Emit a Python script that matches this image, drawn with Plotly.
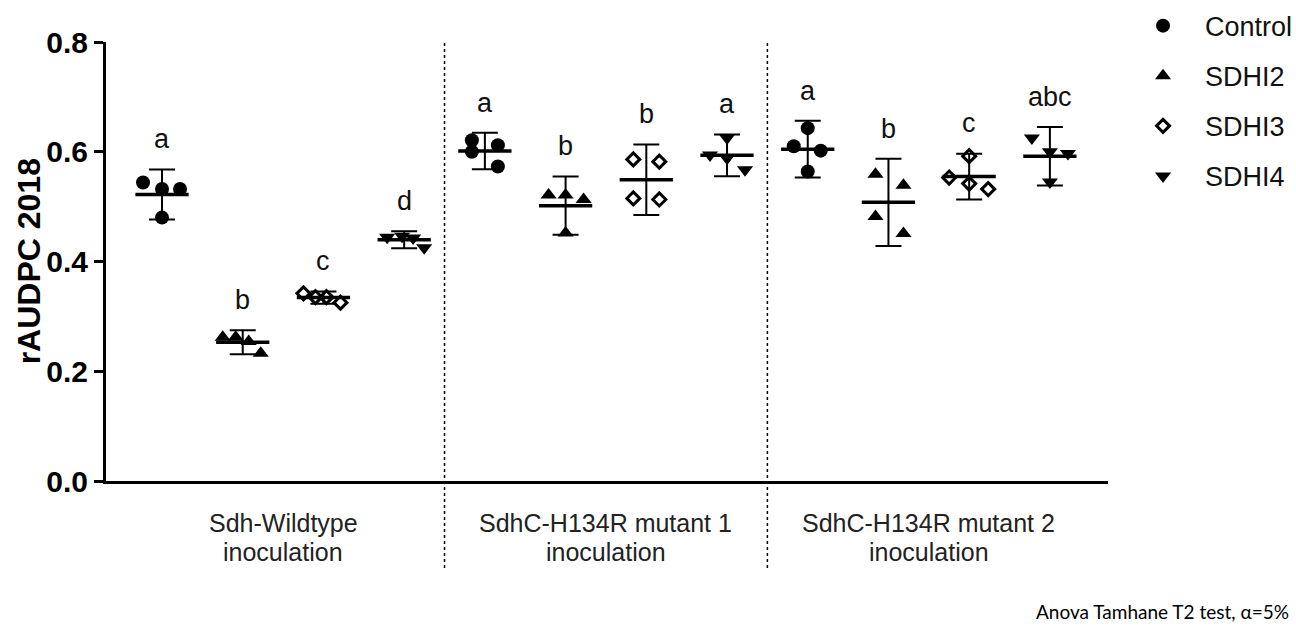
import numpy as np
import plotly.graph_objects as go

# ---------------- data ----------------
groups = [["Sdh-Wildtype", "inoculation"],
          ["SdhC-H134R mutant 1", "inoculation"],
          ["SdhC-H134R mutant 2", "inoculation"]]
treatments = ["Control", "SDHI2", "SDHI3", "SDHI4"]

control_vals = [[0.544, 0.532, 0.532, 0.480],
                [0.621, 0.600, 0.612, 0.573],
                [0.643, 0.610, 0.602, 0.564]]
sdhi2_vals = [[0.262, 0.262, 0.254, 0.233],
              [0.521, 0.521, 0.513, 0.452],
              [0.559, 0.539, 0.482, 0.451]]
sdhi3_vals = [[0.342, 0.335, 0.335, 0.325],
              [0.586, 0.582, 0.515, 0.513],
              [0.592, 0.553, 0.542, 0.532]]
sdhi4_vals = [[0.444, 0.446, 0.443, 0.425],
              [0.594, 0.625, 0.588, 0.567],
              [0.625, 0.600, 0.597, 0.545]]

control_letters = ["a", "a", "a"]
sdhi2_letters = ["b", "b", "b"]
sdhi3_letters = ["c", "b", "c"]
sdhi4_letters = ["d", "a", "abc"]

y_ticks = [0.0, 0.2, 0.4, 0.6, 0.8]
y_title = "rAUDPC 2018"
footnote = "Anova Tamhane T2 test, α=5%"

# ---------------- styling ----------------
PX_PER_UNIT = 80.7
jitter_px = {
    "Control": [[-19, 0, 18, 0], [-13, -13, 13, 13], [0, -14, 13, 0]],
    "SDHI2": [[-20, -7, 6, 18], [-17, 0, 18, 0], [-13, 15, -13, 15]],
    "SDHI3": [[-20, -8, 3, 17], [-13, 13, -13, 13], [0, -20, 0, 19]],
    "SDHI4": [[-17, -2, 9, 20], [-17, 0, 0, 18], [-18, 0, 18, 0]],
}
symbols = {"Control": dict(symbol="circle", size=14),
           "SDHI2": dict(symbol="triangle-up", size=14),
           "SDHI3": dict(symbol="diamond-open", size=10, line=dict(width=3, color="black")),
           "SDHI4": dict(symbol="triangle-down", size=14)}
T_CRIT = 3.182  # t(0.975, df=3) -> 95% CI error bars
MEAN_HALF = 0.33
LETTER_GAP = 0.055
FONT = "Liberation Sans, Arial"

all_vals = {"Control": control_vals, "SDHI2": sdhi2_vals,
            "SDHI3": sdhi3_vals, "SDHI4": sdhi4_vals}
all_letters = {"Control": control_letters, "SDHI2": sdhi2_letters,
               "SDHI3": sdhi3_letters, "SDHI4": sdhi4_letters}

fig = go.Figure()
annotations = []

mean_x, mean_y, err_x, err_m, err_c = [], [], [], [], []
for ti, t in enumerate(treatments):
    for gi in range(len(groups)):
        pos = 4 * gi + ti
        v = np.array(all_vals[t][gi])
        m = v.mean()
        ci = T_CRIT * v.std(ddof=1) / np.sqrt(len(v))
        mean_x += [pos - MEAN_HALF, pos + MEAN_HALF, None]
        mean_y += [m, m, None]
        err_x.append(pos)
        err_m.append(m)
        err_c.append(ci)
        annotations.append(dict(x=pos, y=m + ci + LETTER_GAP, xref="x", yref="y",
                                text=all_letters[t][gi], showarrow=False,
                                yanchor="middle",
                                font=dict(family=FONT, size=27, color="#111")))

# error bars (95% CI)
fig.add_trace(go.Scatter(x=err_x, y=err_m, mode="markers",
                         marker=dict(size=0.1, color="rgba(0,0,0,0)"),
                         error_y=dict(type="data", array=err_c, visible=True,
                                      color="black", thickness=2, width=13),
                         showlegend=False, hoverinfo="skip"))
# mean lines
fig.add_trace(go.Scatter(x=mean_x, y=mean_y, mode="lines",
                         line=dict(color="black", width=3.5),
                         showlegend=False, hoverinfo="skip"))

# points
for ti, t in enumerate(treatments):
    xs, ys = [], []
    for gi in range(len(groups)):
        pos = 4 * gi + ti
        for val, off in zip(all_vals[t][gi], jitter_px[t][gi]):
            xs.append(pos + off / PX_PER_UNIT)
            ys.append(val)
    mk = dict(color="black")
    mk.update(symbols[t])
    fig.add_trace(go.Scatter(x=xs, y=ys, mode="markers", name=t, marker=mk,
                             legendgroup=t, hoverinfo="skip"))

# group labels (two lines each)
line_y = [-0.0957, -0.1617]
for gi, g in enumerate(groups):
    for li, txt in enumerate(g):
        annotations.append(dict(x=4 * gi + 1.5, y=line_y[li], xref="x", yref="paper",
                                text=txt, showarrow=False, yanchor="middle",
                                font=dict(family=FONT, size=25, color="#222")))

# y-axis title
annotations.append(dict(x=-0.077, y=0.5, xref="paper", yref="paper",
                        text="<b>" + y_title + "</b>", textangle=-90, showarrow=False,
                        xanchor="center", yanchor="middle",
                        font=dict(family=FONT, size=32, color="black")))

annotations.append(dict(x=1.183, y=-0.298, xref="paper", yref="paper",
                        text=footnote, showarrow=False, xanchor="right", yanchor="middle",
                        font=dict(family="Lato, Open Sans", size=19, color="black")))

shapes = []
for xd in [3.5, 7.5]:
    shapes.append(dict(type="line", xref="x", yref="paper", x0=xd, x1=xd,
                       y0=-0.198, y1=1.0,
                       line=dict(color="black", width=1.5, dash="3px,3px")))

fig.update_layout(
    width=1296, height=633,
    margin=dict(l=106, r=188, t=42, b=152, autoexpand=False),
    paper_bgcolor="white", plot_bgcolor="white",
    font=dict(family=FONT, color="black"),
    hovermode=False,
    xaxis=dict(range=[-0.694, 11.72], showgrid=False, zeroline=False,
               showticklabels=False, ticks="", showline=True,
               linecolor="black", linewidth=3),
    yaxis=dict(range=[0, 0.8], tickvals=y_ticks, tickformat=".1f",
               showgrid=False, zeroline=False, showline=True,
               linecolor="black", linewidth=3, ticks="outside",
               ticklen=9, tickwidth=3, tickcolor="black",
               tickfont=dict(size=30, family=FONT, color="black", weight="bold")),
    legend=dict(x=1.013, y=1.092, xanchor="left", yanchor="top",
                font=dict(size=27, family=FONT, color="#111"),
                itemwidth=74,
                tracegroupgap=12, bgcolor="rgba(0,0,0,0)"),
    annotations=annotations,
    shapes=shapes,
)

fig.write_html("out.html", config={"displayModeBar": False},
               post_script="document.body.style.margin='0';document.body.style.overflow='hidden';")
